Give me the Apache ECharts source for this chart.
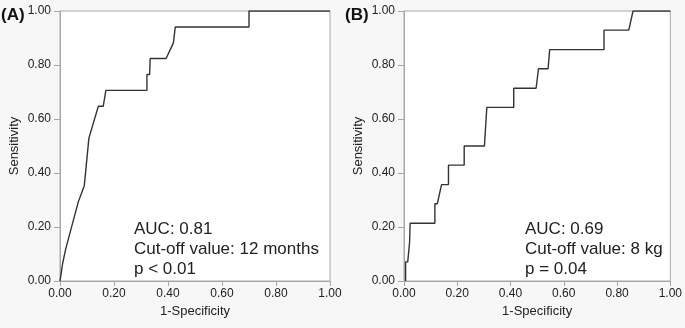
<!DOCTYPE html>
<html><head><meta charset="utf-8">
<script src="https://cdn.jsdelivr.net/npm/echarts@6/dist/echarts.min.js"></script>
<style>html,body{margin:0;padding:0;background:#f7f7f7;}#c{width:685px;height:328px;}</style>
</head><body><div id="c"></div>
<script>
const tickLabels = ['0.00','0.20','0.40','0.60','0.80','1.00'];
const fprA = [0.000,0.003,0.010,0.021,0.027,0.068,0.090,0.107,0.114,0.142,0.160,0.170,0.322,0.322,0.332,0.334,0.393,0.420,0.426,0.427,0.700,0.700,1.000];
const tprA = [0.000,0.000,0.066,0.118,0.118,0.294,0.353,0.529,0.529,0.647,0.647,0.706,0.706,0.765,0.765,0.824,0.824,0.882,0.882,0.941,0.941,1.000,1.000];
const fprB = [0.006,0.006,0.014,0.021,0.023,0.116,0.116,0.125,0.141,0.167,0.167,0.226,0.226,0.302,0.311,0.412,0.412,0.496,0.505,0.541,0.547,0.751,0.751,0.844,0.860,1.000];
const tprB = [0.000,0.071,0.071,0.143,0.214,0.214,0.286,0.286,0.357,0.357,0.429,0.429,0.500,0.500,0.643,0.643,0.714,0.714,0.786,0.786,0.857,0.857,0.929,0.929,1.000,1.000];
const panelLabels = ['(A)','(B)'];
const notesA = ['AUC: 0.81','Cut-off value: 12 months','p < 0.01'];
const notesB = ['AUC: 0.69','Cut-off value: 8 kg','p = 0.04'];

const FONT = 'Liberation Sans, Arial, sans-serif';
const grey = '#a8a8a8';
const txt = '#222';
function axis(type, name, gi){
  const isX = type === 'x';
  return {
    type:'value', gridIndex:gi, min:0, max:1, interval:0.2,
    name:name, nameLocation:'middle', nameGap: isX ? 21 : 39,
    nameTextStyle:{fontFamily:FONT,fontSize:13,color:txt},
    axisLine:{show:true,lineStyle:{color:grey,width:1}},
    axisTick:{show:true,length:isX?5:6,lineStyle:{color:grey}},
    axisLabel:{fontFamily:FONT,fontSize:12,color:txt,margin:isX?7:9,
      formatter:v=>tickLabels[Math.round(v*5)]},
    splitLine:{show:false}
  };
}
const pair = (xs,ys)=>xs.map((x,i)=>[x,ys[i]]);
const chart = echarts.init(document.getElementById('c'),null,{renderer:'canvas'});
const noteText = (arr,left)=>arr.map((t,i)=>({type:'text',left:left,top:221+i*20,
  style:{text:t,font:'17px '+FONT,fill:txt}}));
chart.setOption({
  backgroundColor:'#f7f7f7',
  animation:false,
  grid:[
    {left:60,top:11,width:270,height:270,show:true,backgroundColor:'#fff',borderColor:grey,borderWidth:1},
    {left:404,top:11,width:271,height:270,show:true,backgroundColor:'#fff',borderColor:grey,borderWidth:1}
  ],
  xAxis:[axis('x','1-Specificity',0),axis('x','1-Specificity',1)],
  yAxis:[axis('y','Sensitivity',0),axis('y','Sensitivity',1)],
  series:[
    {type:'line',xAxisIndex:0,yAxisIndex:0,data:pair(fprA,tprA),symbol:'none',lineStyle:{color:'#333',width:1.4}},
    {type:'line',xAxisIndex:1,yAxisIndex:1,data:pair(fprB,tprB),symbol:'none',lineStyle:{color:'#333',width:1.4}}
  ],
  graphic:[
    {type:'text',left:1,top:7,style:{text:panelLabels[0],font:'bold 17px '+FONT,fill:'#111'}},
    {type:'text',left:345,top:7,style:{text:panelLabels[1],font:'bold 17px '+FONT,fill:'#111'}},
    ...noteText(notesA,134),
    ...noteText(notesB,525)
  ]
});
</script></body></html>
